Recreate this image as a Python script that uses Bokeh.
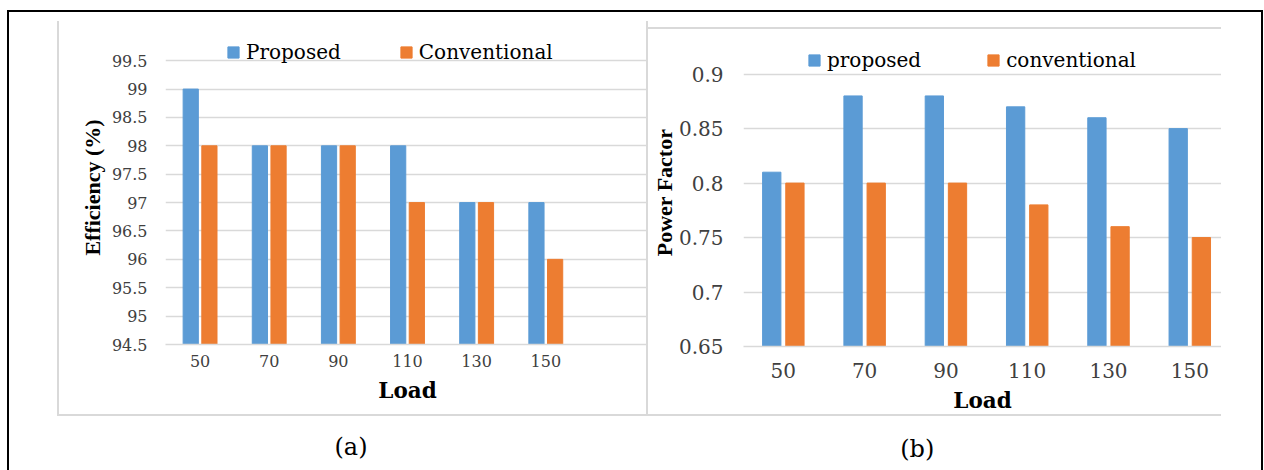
from bokeh.plotting import figure
from bokeh.models import Range1d, FixedTicker, Legend, LegendItem, ColumnDataSource
from bokeh.layouts import row, column
from bokeh.transform import dodge
from bokeh.embed import file_html
from bokeh.resources import INLINE
from bokeh.core.properties import value

# ---- data -------------------------------------------------------------
loads = [50, 70, 90, 110, 130, 150]

eff_proposed = [99, 98, 98, 98, 97, 97]
eff_conventional = [98, 98, 98, 97, 97, 96]

pf_proposed = [0.81, 0.88, 0.88, 0.87, 0.86, 0.85]
pf_conventional = [0.80, 0.80, 0.80, 0.78, 0.76, 0.75]

eff_ticks = [94.5, 95, 95.5, 96, 96.5, 97, 97.5, 98, 98.5, 99, 99.5]
eff_tick_labels = ["94.5", "95", "95.5", "96", "96.5", "97", "97.5", "98", "98.5", "99", "99.5"]
pf_ticks = [0.65, 0.7, 0.75, 0.8, 0.85, 0.9]
pf_tick_labels = ["0.65", "0.7", "0.75", "0.8", "0.85", "0.9"]

legend_a = ["Proposed", "Conventional"]
legend_b = ["proposed", "conventional"]
captions = ["(a)", "(b)"]

# ---- style ------------------------------------------------------------
BLUE = "#5B9BD5"
ORANGE = "#ED7D31"
GRID = "#d9d9d9"
TICK_TXT = "#404040"
SERIF_W = "DejaVu Serif"
SERIF = "Liberation Serif"


def style_axes(p, tick_size, ytick_standoff, xtick_standoff, ytitle_standoff, xtitle_standoff):
    p.grid.visible = False
    p.ygrid.visible = True
    p.ygrid.grid_line_color = GRID
    p.ygrid.grid_line_width = 1.5
    p.outline_line_color = None
    for ax in (p.xaxis[0], p.yaxis[0]):
        ax.major_tick_line_color = None
        ax.minor_tick_line_color = None
        ax.major_tick_out = 0
        ax.major_tick_in = 0
        ax.minor_tick_out = 0
        ax.minor_tick_in = 0
        ax.major_label_text_font = SERIF_W
        ax.major_label_text_font_size = tick_size
        ax.major_label_text_color = TICK_TXT
        ax.axis_label_text_font_style = "bold"
        ax.axis_label_text_color = "black"
    p.yaxis.axis_line_color = None
    p.xaxis.axis_line_color = GRID
    p.xaxis.axis_line_width = 1.5
    p.yaxis.major_label_standoff = ytick_standoff
    p.xaxis.major_label_standoff = xtick_standoff
    p.yaxis.axis_label_standoff = ytitle_standoff
    p.xaxis.axis_label_standoff = xtitle_standoff
    p.yaxis.axis_label_text_font = SERIF
    p.yaxis.axis_label_text_font_size = "22px"
    p.xaxis.axis_label_text_font = SERIF_W
    p.xaxis.axis_label_text_font_size = "21.5px"
    p.xaxis.ticker = FixedTicker(ticks=loads)


def add_bars(p, src, base, width, off, names, legend_xy, spacing):
    rb = p.vbar(x=dodge("load", -off, range=p.x_range), top="proposed", bottom=base,
                width=width, source=src, fill_color=BLUE, line_color=BLUE)
    ro = p.vbar(x=dodge("load", off, range=p.x_range), top="conventional", bottom=base,
                width=width, source=src, fill_color=ORANGE, line_color=ORANGE)
    leg = Legend(items=[LegendItem(label=names[0], renderers=[rb]),
                        LegendItem(label=names[1], renderers=[ro])],
                 orientation="horizontal", location=legend_xy,
                 glyph_width=14, glyph_height=14, label_standoff=6, spacing=spacing,
                 padding=0, margin=0, border_line_color=None,
                 background_fill_alpha=0, label_text_font=SERIF_W,
                 label_text_font_size="20px", label_text_color="black",
                 label_height=14)
    p.add_layout(leg, "center")


def box(sides):
    st = {"box-sizing": "content-box"}
    for s in sides:
        st[f"border-{s}"] = f"2px solid {GRID}"
    return st


# ---- panel (a): efficiency ---------------------------------------------
# the plotting frame reaches above the top gridline so the legend sits inside it
src_a = ColumnDataSource(dict(load=loads, proposed=eff_proposed, conventional=eff_conventional))
fa = figure(width=587, height=393, x_range=Range1d(40, 180),
            y_range=Range1d(eff_ticks[0], 100.032), title=None,
            output_backend="svg", toolbar_location=None,
            min_border_left=106, min_border_right=1, min_border_top=9, min_border_bottom=72,
            x_axis_label="Load", y_axis_label="Efficiency (%)",
            margin=(9, 0, 0, 48), styles=box(["left", "right", "bottom"]))
style_axes(fa, "16px", 18, 10, 4, 8)
fa.yaxis.ticker = FixedTicker(ticks=eff_ticks)
fa.yaxis.major_label_overrides = dict(zip(eff_ticks, eff_tick_labels))
add_bars(fa, src_a, eff_ticks[0], 4.4, 2.7, legend_a, (61, 280), 58)

# ---- panel (b): power factor --------------------------------------------
src_b = ColumnDataSource(dict(load=loads, proposed=pf_proposed, conventional=pf_conventional))
fb = figure(width=573, height=385, x_range=Range1d(40.2, 157.8),
            y_range=Range1d(pf_ticks[0], 0.93272), title=None,
            output_backend="svg", toolbar_location=None,
            min_border_left=94, min_border_right=0, min_border_top=8, min_border_bottom=72,
            x_axis_label="Load", y_axis_label="Power Factor",
            margin=(15, 0, 0, 0), styles=box(["top", "bottom"]))
style_axes(fb, "20px", 20, 16, -1, 7)
fb.yaxis.ticker = FixedTicker(ticks=pf_ticks)
fb.yaxis.major_label_overrides = dict(zip(pf_ticks, pf_tick_labels))
add_bars(fb, src_b, pf_ticks[0], 4.5, 2.85, legend_b, (64, 274), 65)

# ---- captions strip ------------------------------------------------------
cap = figure(width=1252, height=54, x_range=Range1d(9, 1261), y_range=Range1d(470, 416),
             output_backend="svg", toolbar_location=None, min_border=0,
             outline_line_color=None)
cap.axis.visible = False
cap.grid.visible = False
cap.text(x=[350.5, 916.7], y=[446, 448], text=captions, text_align="center",
         text_baseline="middle", text_font=value(SERIF_W), text_font_size="24px",
         text_color="black")

root = column(row(fa, fb), cap, margin=(10, 0, 0, 7),
              styles={"border-top": "2px solid black", "border-left": "2px solid black",
                      "border-right": "2px solid black"})

open("out.html", "w").write(file_html(root, INLINE))
